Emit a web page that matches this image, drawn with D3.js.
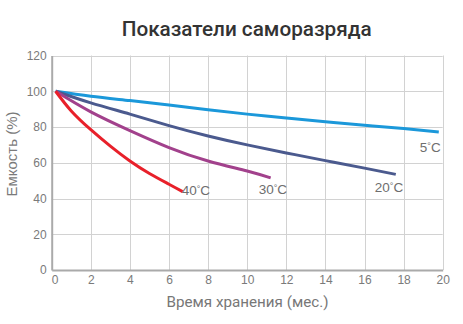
<!DOCTYPE html>
<html>
<head>
<meta charset="utf-8">
<script src="https://cdn.jsdelivr.net/npm/d3@7"></script>
<style>
  html, body { margin: 0; padding: 0; background: #fff; }
  svg { display: block; }
</style>
</head>
<body>
<svg id="chart" width="463" height="324"></svg>
<script>
// Self-discharge curves: remaining capacity (%) vs storage time (months)
const xTicks = [0, 2, 4, 6, 8, 10, 12, 14, 16, 18, 20];
const yTicks = [0, 20, 40, 60, 80, 100, 120];

const series5C  = [[0.2,100],[2,97.2],[4,94.8],[6,92.3],[8,89.7],[10,87.2],[12,85],[14,83],[16,81],[18,79.1],[19.8,77.2]];
const series20C = [[0.2,100],[2,93.5],[4,87.2],[6,80.8],[8,75],[10,70],[12,65.5],[14,61.2],[16,57],[17.6,53.5]];
const series30C = [[0.2,100],[2,88.5],[4,78],[6,68.5],[8,61],[10,55.4],[11.2,51.5]];
const series40C = [[0.2,100],[1,89],[2,78.5],[3,69.3],[4,61],[5,54],[6,48],[6.7,43.8]];

const seriesNames  = ["5", "20", "30", "40"];
const seriesColors = ["#1b98da", "#4b5a8e", "#a2418c", "#e8202a"];
const seriesData   = [series5C, series20C, series30C, series40C];

const svg = d3.select("#chart");
const x = d3.scaleLinear().domain([0, 20]).range([51.7, 442.7]);
const y = d3.scaleLinear().domain([0, 120]).range([270, 55.5]);

const sans = "'Liberation Sans', Arial, sans-serif";
const titleFont = "Roboto, 'Open Sans', sans-serif";

// Grid
const grid = svg.append("g").attr("stroke", "#d2d2d2").attr("stroke-width", 1);
grid.selectAll("line.v").data(xTicks.slice(1)).join("line")
  .attr("x1", d => Math.round(x(d)) + 0.5).attr("x2", d => Math.round(x(d)) + 0.5)
  .attr("y1", y(120)).attr("y2", y(0));
grid.selectAll("line.h").data(yTicks.slice(1)).join("line")
  .attr("x1", x(0)).attr("x2", x(20))
  .attr("y1", d => Math.round(y(d)) + 0.5).attr("y2", d => Math.round(y(d)) + 0.5);

// Axes
const xAxis = d3.axisBottom(x).tickValues(xTicks).tickSize(0).tickPadding(5);
const yAxis = d3.axisLeft(y).tickValues(yTicks).tickSize(0).tickPadding(5);

const gx = svg.append("g").attr("transform", `translate(0,${y(0)})`).call(xAxis);
const gy = svg.append("g").attr("transform", `translate(${x(0)},0)`).call(yAxis);
[gx, gy].forEach(g => {
  g.select(".domain").attr("stroke", "#aaaaaa").attr("stroke-width", 2);
  g.selectAll("text").attr("fill", "#7a7a7a").style("font-family", sans).style("font-size", "12px");
});
gx.select(".tick text").attr("dx", "3");

// Curves
const line = d3.line().x(d => x(d[0])).y(d => y(d[1])).curve(d3.curveNatural);
svg.append("g").selectAll("path").data(seriesData).join("path")
  .attr("d", line)
  .attr("fill", "none")
  .attr("stroke", (d, i) => seriesColors[i])
  .attr("stroke-width", 3);

// Curve labels, placed relative to each curve's last point
const labelOffset = [[-19, 20], [-21, 18], [-12, 16], [-1, 3]];
seriesNames.forEach((name, i) => {
  const [vx, vy] = seriesData[i][seriesData[i].length - 1];
  const t = svg.append("text")
    .attr("x", x(vx) + labelOffset[i][0])
    .attr("y", y(vy) + labelOffset[i][1])
    .attr("fill", "#6e6e6e")
    .style("font-family", sans)
    .style("font-size", "13.5px");
  t.append("tspan").text(name);
  t.append("tspan").text("°").style("font-size", "9px").attr("dy", "-3");
  t.append("tspan").text("C").attr("dy", "3");
});

// Titles, sized to a target width
function fitText(sel, width) {
  const w = sel.node().getComputedTextLength();
  const fs = parseFloat(sel.style("font-size"));
  sel.style("font-size", (fs * width / w).toFixed(2) + "px");
}

const title = svg.append("text")
  .attr("x", 246.7).attr("y", 35.5)
  .attr("text-anchor", "middle")
  .attr("fill", "#333")
  .style("font-family", titleFont)
  .style("font-weight", "500")
  .style("font-size", "20px")
  .text("Показатели саморазряда");
fitText(title, 250);

const xTitle = svg.append("text")
  .attr("x", 247.5).attr("y", 307)
  .attr("text-anchor", "middle")
  .attr("fill", "#777")
  .style("font-family", titleFont)
  .style("font-size", "15px")
  .text("Время хранения (мес.)");
fitText(xTitle, 162);

svg.append("text")
  .attr("transform", `translate(17,154) rotate(-90)`)
  .attr("text-anchor", "middle")
  .attr("fill", "#7a7a7a")
  .style("font-family", sans)
  .style("font-size", "15px")
  .text("Емкость (%)");
</script>
</body>
</html>
